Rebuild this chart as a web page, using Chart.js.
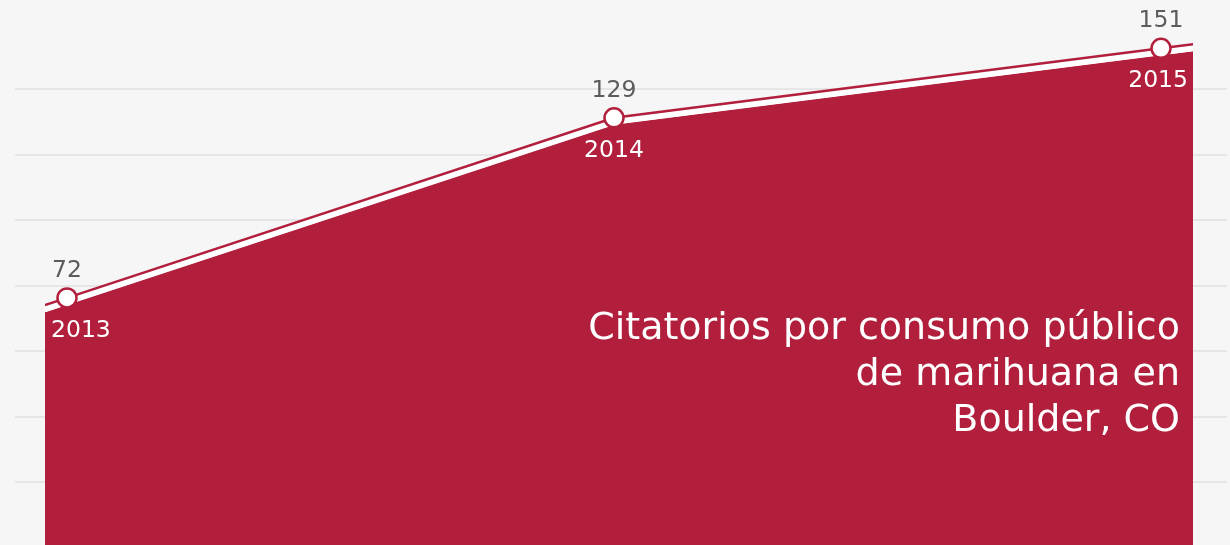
<!DOCTYPE html>
<html>
<head>
<meta charset="utf-8">
<script src="https://cdn.jsdelivr.net/npm/chart.js@4.4.1/dist/chart.umd.min.js"></script>
<style>
  html, body { margin: 0; padding: 0; background: #f6f6f6; }
  #wrap { width: 1230px; height: 545px; }
</style>
</head>
<body>
<div id="wrap"><canvas id="c" width="1230" height="545"></canvas></div>
<script>
// ---- data ----
const YEARS = ['2013', '2014', '2015'];
const CITATIONS = [72, 129, 151];
const TITLE_LINES = ['Citatorios por consumo público', 'de marihuana en', 'Boulder, CO'];
const GRID_TICKS = [1, 2, 3, 4, 5, 6, 7];

// ---- style ----
const CRIMSON = '#b21f3c';
const BG = '#f6f6f6';
const GRID = '#e6e6e6';
const FONT = '"DejaVu Sans", "Open Sans", sans-serif';
const Y_MIN = -6.2, Y_MAX = 166.3, PLOT_H = 545;
const unitsPerPx = (Y_MAX - Y_MIN) / PLOT_H;
const shifted = (px) => ({ min: Y_MIN + px * unitsPerPx, max: Y_MAX + px * unitsPerPx });

const points = YEARS.map((y, i) => ({ x: Number(y), y: CITATIONS[i] }));

const bgPlugin = {
  id: 'bg',
  beforeDraw(chart) {
    const ctx = chart.ctx;
    ctx.save();
    ctx.fillStyle = BG;
    ctx.fillRect(0, 0, chart.width, chart.height);
    ctx.restore();
  }
};

// extend the line / area from the first and last points to the plot edges
const edgeExtend = {
  id: 'edgeExtend',
  beforeDatasetDraw(chart, args) {
    const ds = chart.data.datasets[args.index];
    const pts = args.meta.data;
    if (pts.length < 2) return;
    const ctx = chart.ctx;
    const { left, right, top, bottom } = chart.chartArea;
    const ext = (a, b, x) => a.y + (b.y - a.y) * (x - a.x) / (b.x - a.x);
    const p0 = pts[0], p1 = pts[1], pn = pts[pts.length - 1], pm = pts[pts.length - 2];
    const yl = ext(p0, p1, left), yr = ext(pm, pn, right);
    ctx.save();
    ctx.beginPath();
    ctx.rect(left, top, right - left, bottom - top);
    ctx.clip();
    if (ds.fill) {
      ctx.fillStyle = ds.backgroundColor;
      ctx.beginPath();
      ctx.moveTo(left, yl); ctx.lineTo(p1.x, p1.y); ctx.lineTo(p1.x, bottom); ctx.lineTo(left, bottom);
      ctx.closePath(); ctx.fill();
      ctx.beginPath();
      ctx.moveTo(pm.x, pm.y); ctx.lineTo(right, yr); ctx.lineTo(right, bottom); ctx.lineTo(pm.x, bottom);
      ctx.closePath(); ctx.fill();
    } else {
      ctx.strokeStyle = ds.borderColor;
      ctx.lineWidth = ds.borderWidth;
      ctx.lineCap = 'butt';
      ctx.beginPath();
      ctx.moveTo(left, yl); ctx.lineTo(p0.x, p0.y);
      ctx.moveTo(pn.x, pn.y); ctx.lineTo(right, yr);
      ctx.stroke();
    }
    ctx.restore();
  }
};

const labelPlugin = {
  id: 'labels',
  afterDatasetsDraw(chart) {
    const ctx = chart.ctx;
    const meta = chart.getDatasetMeta(0);
    const { left, right } = chart.chartArea;
    ctx.save();
    ctx.font = '400 23.5px ' + FONT;
    ctx.textBaseline = 'alphabetic';
    meta.data.forEach((pt, i) => {
      ctx.textAlign = 'center';
      ctx.fillStyle = '#5c5c5c';
      ctx.fillText(String(CITATIONS[i]), pt.x, pt.y - 21);
      const w = ctx.measureText(YEARS[i]).width;
      let cx = pt.x;
      if (cx - w / 2 < left + 6) cx = left + 6 + w / 2;
      if (cx + w / 2 > right - 5) cx = right - 5 - w / 2;
      ctx.fillStyle = '#ffffff';
      ctx.fillText(YEARS[i], cx, pt.y + 39);
    });
    // title inside the area
    ctx.font = '400 38px ' + FONT;
    ctx.textAlign = 'right';
    ctx.fillStyle = '#ffffff';
    TITLE_LINES.forEach((line, i) => {
      ctx.fillText(line, right - 13, 339 + i * 46);
    });
    ctx.restore();
  }
};

const gridAxis = (position, tickLength, onArea) => ({
  type: 'linear',
  position,
  min: 0.0427,
  max: 8.361,
  afterBuildTicks: (s) => { s.ticks = GRID_TICKS.map(v => ({ value: v })); },
  grid: { color: GRID, lineWidth: 2, tickLength, drawTicks: true, drawOnChartArea: onArea },
  border: { display: false },
  ticks: { display: false }
});

new Chart(document.getElementById('c'), {
  type: 'line',
  data: {
    datasets: [
      {
        label: 'Citatorios',
        data: points,
        yAxisID: 'y',
        borderColor: CRIMSON,
        borderWidth: 2.5,
        pointRadius: 9.5,
        pointBackgroundColor: '#ffffff',
        pointBorderColor: CRIMSON,
        pointBorderWidth: 2.5,
        fill: false,
        tension: 0
      },
      {
        label: 'gap',
        data: points,
        yAxisID: 'yWhite',
        borderColor: '#ffffff',
        borderWidth: 6,
        pointRadius: 0,
        fill: false,
        tension: 0
      },
      {
        label: 'area',
        data: points,
        yAxisID: 'yArea',
        borderWidth: 0,
        borderColor: 'rgba(0,0,0,0)',
        backgroundColor: CRIMSON,
        pointRadius: 0,
        fill: 'start',
        tension: 0
      }
    ]
  },
  options: {
    responsive: false,
    animation: false,
    devicePixelRatio: 1,
    layout: { autoPadding: false, padding: { left: 15, right: 3, top: 0, bottom: 0 } },
    plugins: { legend: { display: false }, tooltip: { enabled: false }, title: { display: false } },
    scales: {
      x: { type: 'linear', display: false, min: 2012.9598, max: 2015.0585 },
      y: { type: 'linear', display: false, min: Y_MIN, max: Y_MAX },
      yWhite: Object.assign({ type: 'linear', display: false }, shifted(4)),
      yArea: Object.assign({ type: 'linear', display: false }, shifted(7)),
      g: gridAxis('left', 30, true),
      g2: gridAxis('right', 34, false)
    }
  },
  plugins: [bgPlugin, edgeExtend, labelPlugin]
});
</script>
</body>
</html>
